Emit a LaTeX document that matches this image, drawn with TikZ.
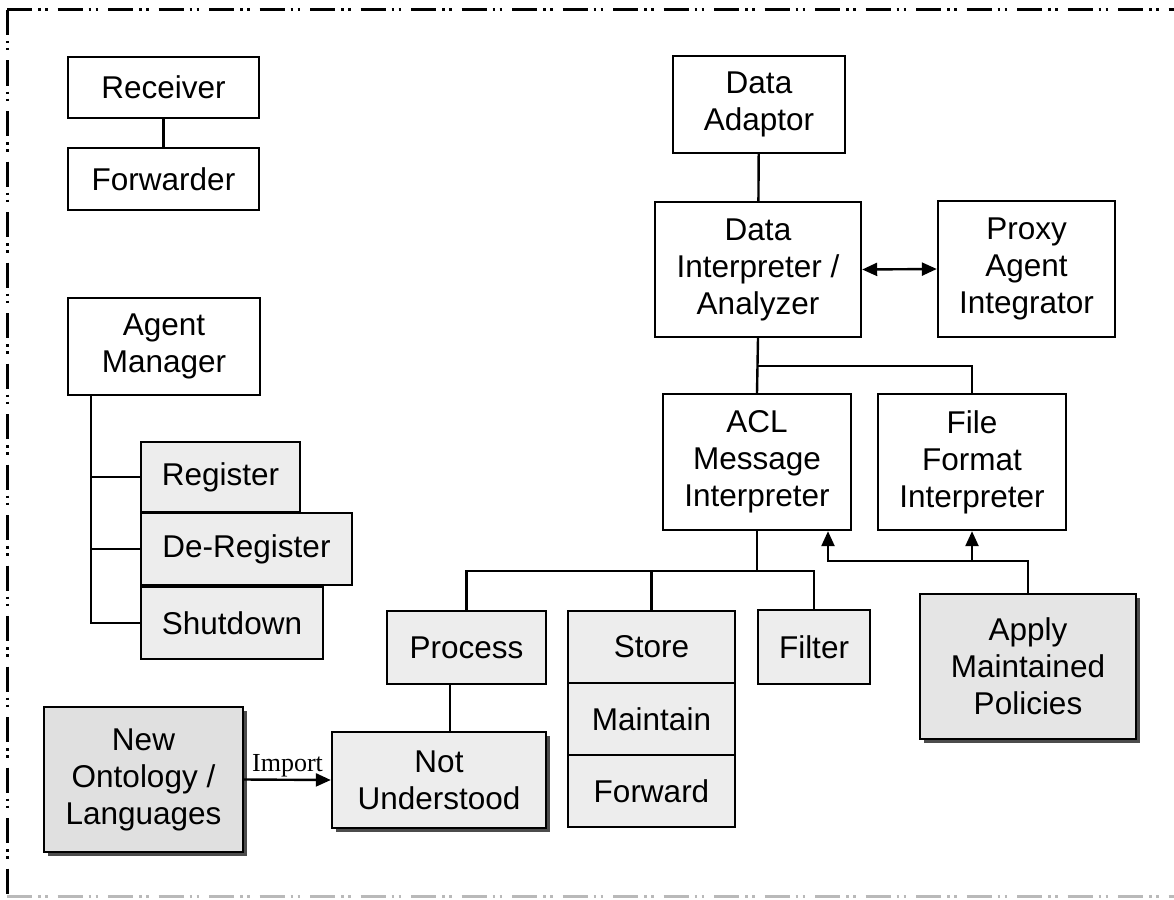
\documentclass[tikz,border=0pt]{standalone}
\usepackage{fontspec}
\setmainfont{Liberation Sans}
\newfontfamily\labelfont{Liberation Serif}
\usetikzlibrary{arrows.meta,shadows,calc}

\begin{document}
\begin{tikzpicture}[x=1pt,y=1pt,
  box/.style={draw=black, line width=2.4pt, align=center, inner sep=0pt,
              font=\fontsize{31.5}{37}\selectfont, fill=white},
  tinted/.style={box, fill=gray!14},
  shadowed/.style={box, fill=gray!20,
              drop shadow={shadow xshift=4pt, shadow yshift=-4pt, fill=black!70, opacity=1}},
  link/.style={line width=2.4pt},
  arr/.style={link, -{Triangle[length=15pt,width=13pt]}},
  dblarr/.style={link, {Triangle[length=15pt,width=13pt]}-{Triangle[length=15pt,width=13pt]}},
  frame/.style={line width=3pt, dash pattern=on 25pt off 6pt on 2.5pt off 4.5pt on 2.5pt off 10pt},
]
\useasboundingbox (0,0) rectangle (1174,-899);

% outer frame
\draw[frame] (7,-10) -- (1174,-10);
\draw[frame] (7,-10) -- (7,-896);
\draw[frame, draw=gray!55] (7,-896) -- (1174,-896);

% left column
\node[box, minimum width=191pt, minimum height=61pt] (rcv) at (163.5,-87.5) {Receiver};
\node[box, minimum width=191pt, minimum height=62pt] (fwd) at (163.5,-179) {Forwarder};
\node[box, minimum width=192pt, minimum height=97pt] (am) at (164,-346.5) {Agent\\Manager};
\node[tinted, minimum width=159pt, minimum height=70pt] (reg) at (220.5,-477) {Register};
\node[tinted, minimum width=211pt, minimum height=72pt] (dereg) at (246.5,-549) {De-Register};
\node[tinted, minimum width=182pt, minimum height=72pt] (shut) at (232,-623) {Shutdown};

% upper right
\node[box, minimum width=172pt, minimum height=97pt] (da) at (759,-104.5) {Data\\Adaptor};
\node[box, minimum width=206pt, minimum height=135pt] (di) at (758,-269.5) {Data\\Interpreter /\\Analyzer};
\node[box, minimum width=177pt, minimum height=136pt] (pai) at (1026.5,-269) {Proxy\\Agent\\Integrator};
\node[box, minimum width=188pt, minimum height=136pt] (acl) at (757,-462) {ACL\\Message\\Interpreter};
\node[box, minimum width=188pt, minimum height=136pt] (ff) at (972,-462) {File\\Format\\Interpreter};

% lower row
\node[tinted, minimum width=159pt, minimum height=73pt] (proc) at (466.5,-647.5) {Process};
\node[tinted, minimum width=167pt, minimum height=72pt] (store) at (651.5,-647) {Store};
\node[tinted, minimum width=167pt, minimum height=72pt] (maint) at (651.5,-719) {Maintain};
\node[tinted, minimum width=167pt, minimum height=72pt] (fwd2) at (651.5,-791) {Forward};
\node[tinted, minimum width=112pt, minimum height=74pt] (filt) at (814,-647) {Filter};
\node[shadowed, minimum width=216pt, minimum height=145pt] (apply) at (1028,-666.5) {Apply\\Maintained\\Policies};
\node[shadowed, fill=gray!24, minimum width=199pt, minimum height=145pt] (newo) at (143.5,-779.5) {New\\Ontology /\\Languages};
\node[shadowed, fill=gray!14, minimum width=214pt, minimum height=96pt] (nu) at (439,-780) {Not\\Understood};

% connectors: left column
\draw[link] (rcv) -- (fwd);
\draw[link] ([xshift=24pt]am.south west) |- (reg.west);
\draw[link] ([xshift=24pt]am.south west) |- (dereg.west);
\draw[link] ([xshift=24pt]am.south west) |- (shut.west);

% connectors: interpreter tree
\draw[link] (da) -- (di);
\draw[dblarr] (di.east) -- (pai.west);
\draw[link] (di.south) -- (acl.north);
\draw[link] (di.south) ++(0,-28) -| (ff.north);
\draw[link] (acl.south) -- ++(0,-40) -| (proc.north);
\draw[link] (acl.south) ++(0,-40) -| (store.north);
\draw[link] (acl.south) ++(0,-40) -| (filt.north);
\draw[arr] (apply.north) -- ++(0,32) -| ([xshift=71pt]acl.south);
\draw[arr] (apply.north) ++(0,32) -| (ff.south);
\draw[link] ([xshift=-16.5pt]proc.south) -- ([xshift=-16.5pt]proc.south |- nu.north);
\draw[arr] (newo.east) -- node[above, font=\labelfont\fontsize{26}{28}\selectfont, inner sep=2pt] (implbl) {Import} (nu.west);

\end{tikzpicture}
\end{document}
